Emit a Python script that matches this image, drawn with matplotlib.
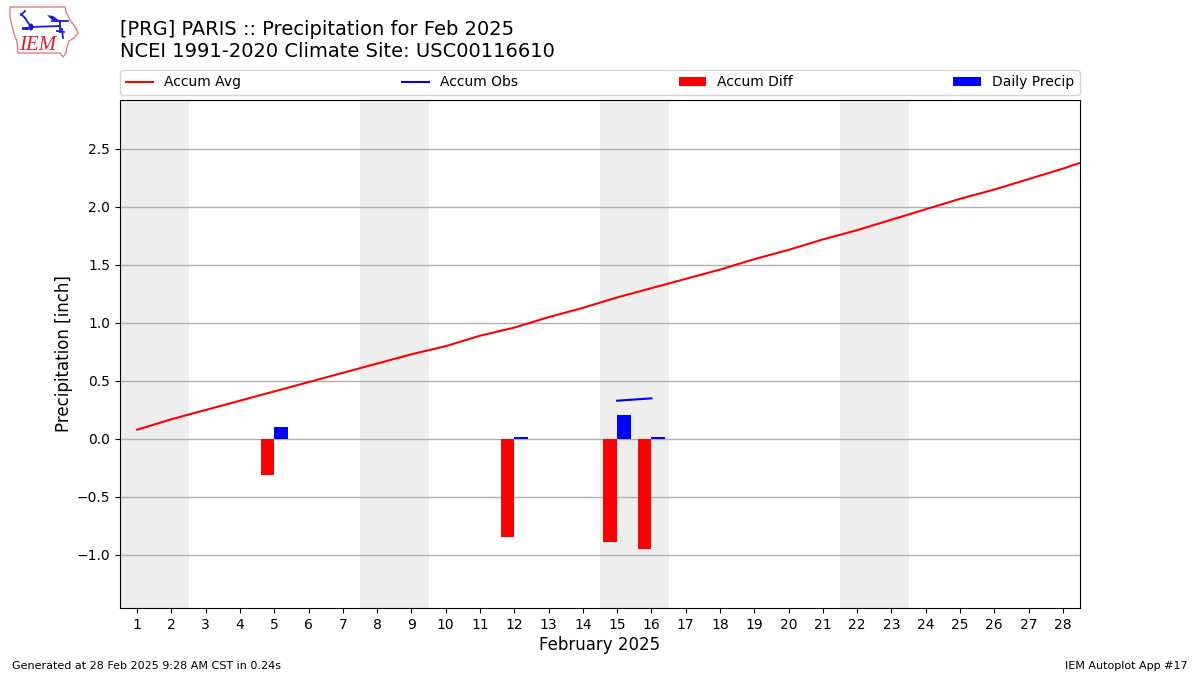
import matplotlib
matplotlib.use("Agg")
import matplotlib.pyplot as plt
from matplotlib.lines import Line2D
from matplotlib.patches import Polygon, Ellipse

days = list(range(1, 30))
accum_avg = [0.08, 0.17, 0.25, 0.33, 0.41, 0.49, 0.57, 0.65, 0.73, 0.80,
             0.89, 0.96, 1.05, 1.13, 1.22, 1.30, 1.38, 1.46, 1.55, 1.63,
             1.72, 1.80, 1.89, 1.98, 2.07, 2.15, 2.24, 2.33, 2.43]
obs_days = [15, 16]
accum_obs = [0.33, 0.35]
bar_days = [5, 12, 15, 16]
accum_diff = [-0.31, -0.845, -0.89, -0.95]
daily_precip = [0.10, 0.02, 0.207, 0.02]
weekend_spans = [(0.5, 2.5), (7.5, 9.5), (14.5, 16.5), (21.5, 23.5)]
day_ticks = list(range(1, 29))
title_text = "[PRG] PARIS :: Precipitation for Feb 2025\nNCEI 1991-2020 Climate Site: USC00116610"
xlabel_text = "February 2025"
ylabel_text = "Precipitation [inch]"
footer_left = "Generated at 28 Feb 2025 9:28 AM CST in 0.24s"
footer_right = "IEM Autoplot App #17"

W, H = 1200, 675
fig = plt.figure(figsize=(12, 6.75), dpi=100)
ax = fig.add_axes([120 / W, 1 - 608 / H, 960 / W, 508 / H])

for a, b in weekend_spans:
    ax.axvspan(a, b, color="#EEEEEE", lw=0, zorder=0)
ax.set_axisbelow(True)
ax.yaxis.grid(True, color="#b0b0b0", lw=1.0, zorder=1)

ax.plot(days, accum_avg, color="red", lw=1.5, label="Accum Avg", zorder=3)
ax.plot(obs_days, accum_obs, color="blue", lw=1.5, label="Accum Obs", zorder=3)
ax.bar([d - 0.2 for d in bar_days], accum_diff, width=0.4, color="red", label="Accum Diff", zorder=3)
ax.bar([d + 0.2 for d in bar_days], daily_precip, width=0.4, color="blue", label="Daily Precip", zorder=3)

ax.set_xlim(0.5, 28.5)
ax.set_ylim(-1.457, 2.922)
ax.set_xticks(day_ticks)
ax.set_xticklabels([str(d) for d in day_ticks])
ax.set_yticks([-1.0, -0.5, 0.0, 0.5, 1.0, 1.5, 2.0, 2.5])
ax.tick_params(labelsize=10)
ax.set_xlabel(xlabel_text, fontsize=12, labelpad=3)
ax.set_ylabel(ylabel_text, fontsize=12, labelpad=2.6)

ax.legend(loc="lower left", bbox_to_anchor=(0, 1.01, 1, 0.05), ncol=4, mode="expand",
          fontsize=10, borderaxespad=0, frameon=True)

fig.text(120 / W, 1 - 61 / H, title_text, fontsize=14, ha="left", va="bottom", linespacing=1.2)
fig.text(12 / W, 1 - 666 / H, footer_left, fontsize=8, ha="left", va="center")
fig.text(1188 / W, 1 - 666 / H, footer_right, fontsize=8, ha="right", va="center")

# IEM logo, drawn in figure pixels
def P(pts):
    return [(x / W, 1 - y / H) for x, y in pts]

outline = [(10, 7), (65, 7), (66, 12), (70, 20), (76, 28), (78, 33), (74, 38), (69, 41), (67, 47),
           (66, 53), (63, 57), (60, 53), (18, 53), (17, 42), (13, 30), (10, 17)]
fig.add_artist(Polygon(P(outline), closed=True, fill=False, edgecolor="#e08080", lw=1.0,
                       transform=fig.transFigure))
blue_logo = "#1a1ad8"
logo_lines = [
    [(31, 27), (60, 26)], [(60, 21), (60, 32)], [(52, 21), (68, 21)],
    [(31, 27), (25, 18)], [(21, 14), (25, 18)], [(25, 11), (21, 15)],
    [(57, 31), (64, 32)], [(62, 29), (63, 38)],
]
for seg in logo_lines:
    xy = P(seg)
    fig.add_artist(Line2D([p[0] for p in xy], [p[1] for p in xy], color=blue_logo, lw=1.3,
                          transform=fig.transFigure))
fig.add_artist(Polygon(P([(47, 15), (53, 16), (60, 21), (52, 20)]), closed=True, color=blue_logo,
                       lw=0, transform=fig.transFigure))
fig.add_artist(Ellipse((31 / W, 1 - 27 / H), 5 / W, 7 / H, color=blue_logo, lw=0,
                       transform=fig.transFigure))
fig.add_artist(Line2D([23 / W, 25 / W, 27 / W], [1 - 28 / H] * 3, color=blue_logo, lw=0, marker="o", ms=1.3,
                      transform=fig.transFigure))
fig.text(37.5 / W, 1 - 45.5 / H, "IEM", color="#d82030", fontsize=15, family="Liberation Serif",
         style="italic", ha="center", va="center")

fig.savefig("out.png", dpi=100)
